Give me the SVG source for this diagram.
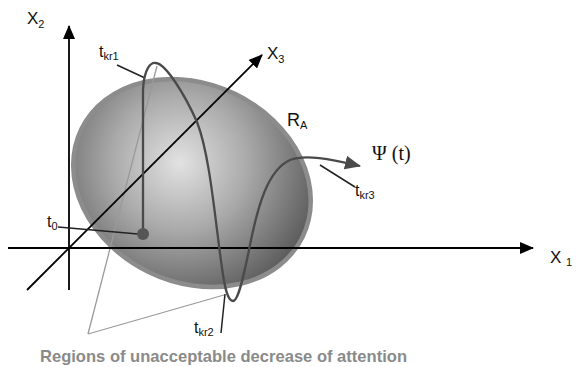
<svg xmlns="http://www.w3.org/2000/svg" width="578" height="367" viewBox="0 0 578 367">
<style>
.lbl{font-family:"Liberation Sans",Arial,sans-serif;fill:#111}
.axis{stroke:#000;stroke-width:1.8;fill:none}
.lead{stroke:#222;stroke-width:1.5;fill:none}
.grey{stroke:#9a9a9a;stroke-width:1.3;fill:none}
.curve{stroke:#4a4a4a;stroke-width:2.3;fill:none}
</style>
<defs>
<radialGradient id="g" cx="172" cy="170" r="150" gradientUnits="userSpaceOnUse">
<stop offset="0" stop-color="#e2e2e2"/>
<stop offset="0.45" stop-color="#aaaaaa"/>
<stop offset="1" stop-color="#555555"/>
</radialGradient>
<marker id="ah" markerWidth="14" markerHeight="12" refX="13" refY="6" orient="auto" markerUnits="userSpaceOnUse">
<path d="M0,0 L14,6 L0,12 Z" fill="#000"/>
</marker>
<marker id="ac" markerWidth="16" markerHeight="14" refX="15" refY="7" orient="auto" markerUnits="userSpaceOnUse">
<path d="M0,0 L16,7 L0,14 Z" fill="#4a4a4a"/>
</marker>
</defs>
<g id="region">
<ellipse cx="192" cy="183" rx="123" ry="99" transform="rotate(26 192 183)" fill="url(#g)" stroke="#8c8c8c" stroke-width="4.5"/>
</g>
<g id="connectors">
<line class="grey" x1="88" y1="334" x2="157" y2="66"/>
<line class="grey" x1="88" y1="334" x2="224" y2="295"/>
<line class="axis" x1="69" y1="290" x2="69" y2="26" marker-end="url(#ah)"/>
<line class="axis" x1="8" y1="248" x2="533" y2="248" marker-end="url(#ah)"/>
<line class="axis" x1="27" y1="290" x2="262" y2="55" marker-end="url(#ah)"/>
<line class="lead" x1="117" y1="65" x2="145" y2="78"/>
<line class="lead" x1="58" y1="227" x2="138" y2="234"/>
<line class="lead" x1="221" y1="333" x2="225" y2="294"/>
<line class="lead" x1="320" y1="165" x2="355" y2="187"/>
</g>
<g id="trajectory">
<path class="curve" d="M143,234 L143,90 C144,68 151,62 156,63 C166,64 185,95 197,122 C210,155 215,220 222,268 C225,290 228,301 233,301 C238,301 243,280 250,245 C258,205 268,170 290,160 C305,154 330,159 360,166" marker-end="url(#ac)"/>
<circle cx="143" cy="234" r="6" fill="#555"/>
</g>
<g id="labels">
<text class="lbl" x="27" y="24" font-size="17">X<tspan font-size="11" dy="4">2</tspan></text>
<text class="lbl" x="267" y="59" font-size="17">X<tspan font-size="11" dy="4">3</tspan></text>
<text class="lbl" x="550" y="263" font-size="17">X <tspan font-size="11" dy="3">1</tspan></text>
<text class="lbl" x="99" y="57" font-size="16">t<tspan font-size="11" dy="3">kr1</tspan></text>
<text class="lbl" x="47" y="227" font-size="16">t<tspan font-size="11" dy="3">0</tspan></text>
<text class="lbl" x="194" y="333" font-size="16">t<tspan font-size="11" dy="3">kr2</tspan></text>
<text class="lbl" x="355" y="196" font-size="16">t<tspan font-size="11" dy="3">kr3</tspan></text>
<text class="lbl" x="287" y="126" font-size="18">R<tspan font-size="11" dy="3">A</tspan></text>
<text x="372" y="160" font-size="20" font-family="'Liberation Serif','Times New Roman',serif" fill="#111">Ψ (t)</text>
<text x="40" y="362" font-size="17" font-weight="bold" font-family="'Liberation Sans',Arial,sans-serif" fill="#8a8a8a" textLength="367" lengthAdjust="spacingAndGlyphs">Regions of unacceptable decrease of attention</text>
</g>
</svg>
